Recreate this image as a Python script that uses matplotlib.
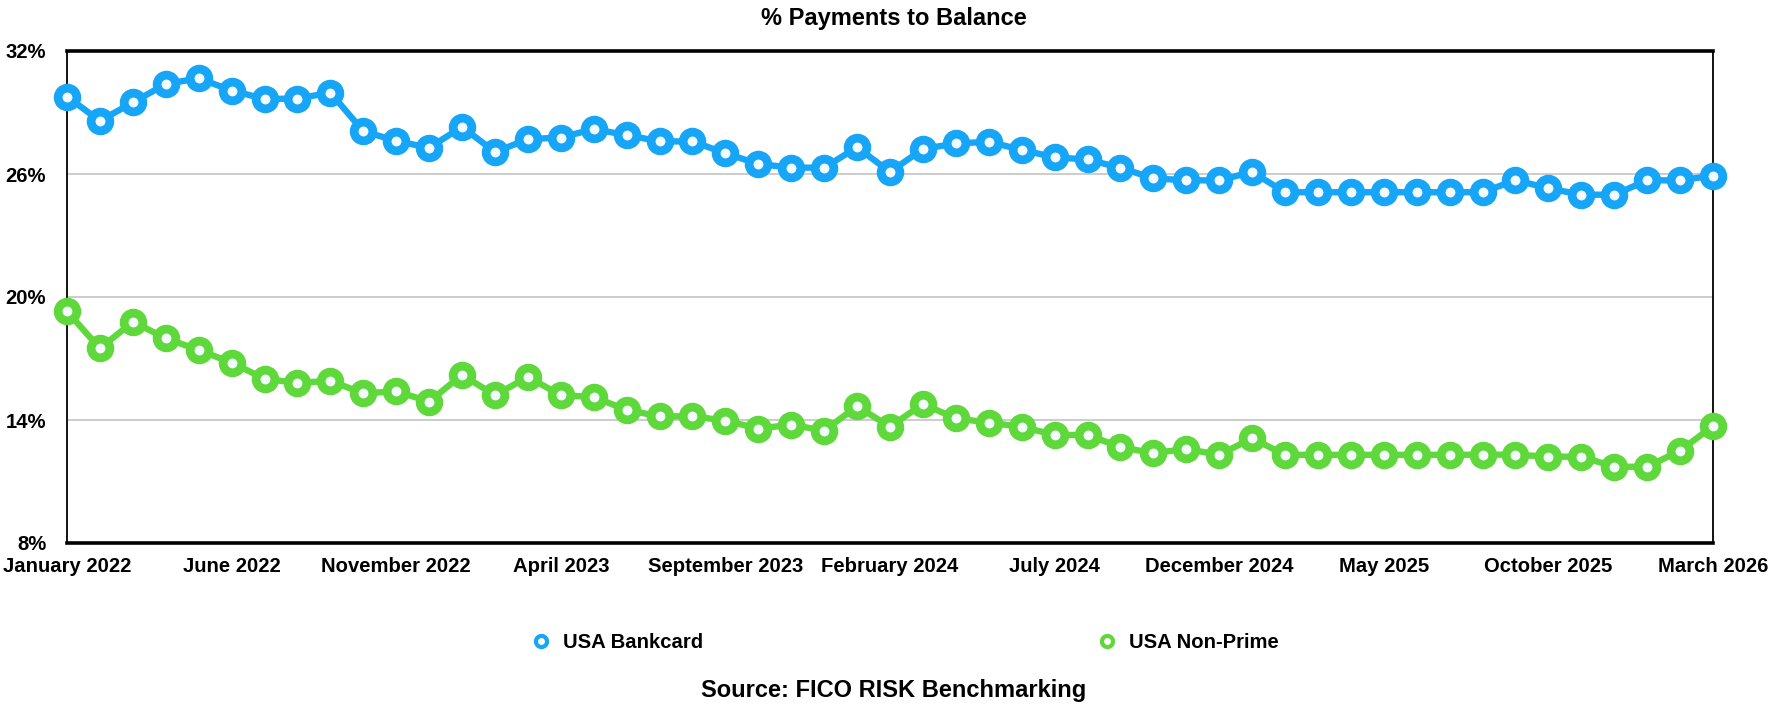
import numpy as np
import matplotlib
matplotlib.use("Agg")
import matplotlib.pyplot as plt
from matplotlib.lines import Line2D

# ---- data ----
months = [
    "January 2022", "February 2022", "March 2022", "April 2022", "May 2022", "June 2022",
    "July 2022", "August 2022", "September 2022", "October 2022", "November 2022", "December 2022",
    "January 2023", "February 2023", "March 2023", "April 2023", "May 2023", "June 2023",
    "July 2023", "August 2023", "September 2023", "October 2023", "November 2023", "December 2023",
    "January 2024", "February 2024", "March 2024", "April 2024", "May 2024", "June 2024",
    "July 2024", "August 2024", "September 2024", "October 2024", "November 2024", "December 2024",
    "January 2025", "February 2025", "March 2025", "April 2025", "May 2025", "June 2025",
    "July 2025", "August 2025", "September 2025", "October 2025", "November 2025", "December 2025",
    "January 2026", "February 2026", "March 2026",
]

bankcard = [
    29.78, 28.59, 29.49, 30.39, 30.67, 30.07, 29.66, 29.68, 29.97, 28.09,
    27.61, 27.28, 28.30, 27.07, 27.70, 27.78, 28.19, 27.90, 27.59, 27.59,
    27.01, 26.49, 26.31, 26.31, 27.30, 26.10, 27.22, 27.49, 27.57, 27.18,
    26.81, 26.71, 26.30, 25.79, 25.69, 25.69, 26.10, 25.11, 25.11, 25.11,
    25.11, 25.11, 25.11, 25.11, 25.70, 25.30, 24.99, 24.99, 25.69, 25.69, 25.92,
]

non_prime = [
    19.30, 17.49, 18.79, 17.99, 17.41, 16.80, 16.01, 15.81, 15.91, 15.30,
    15.40, 14.90, 16.20, 15.21, 16.10, 15.21, 15.12, 14.49, 14.18, 14.18,
    13.97, 13.58, 13.77, 13.48, 14.67, 13.67, 14.78, 14.08, 13.87, 13.67,
    13.27, 13.27, 12.68, 12.38, 12.59, 12.30, 13.11, 12.30, 12.30, 12.30,
    12.30, 12.30, 12.30, 12.31, 12.31, 12.21, 12.21, 11.72, 11.72, 12.50, 13.71,
]

y_ticks = [8, 14, 20, 26, 32]
label_every = 5

BLUE = "#17a6f7"
GREEN = "#5fd83b"

plt.rcParams["font.family"] = ["Liberation Sans", "DejaVu Sans"]
plt.rcParams["font.weight"] = "bold"

fig = plt.figure(figsize=(17.7, 7.14), dpi=100)
ax = fig.add_axes([67 / 1770, 1 - 543 / 714, (1713 - 67) / 1770, (543 - 51) / 714])

x = np.arange(len(months))
style = dict(linewidth=4.6, marker="o", markersize=13.5, markeredgewidth=6.3,
             markerfacecolor="#f4fbff", solid_joinstyle="round", zorder=3, clip_on=False)
ax.plot(x, bankcard, color=BLUE, markeredgecolor=BLUE, **style)
ax.plot(x, non_prime, color=GREEN, markeredgecolor=GREEN, **style)

ax.set_xlim(0, len(months) - 1)
ax.set_ylim(8, 32)
ax.set_yticks(y_ticks)
ax.set_yticklabels([f"{v}%" for v in y_ticks])
ax.set_xticks(x[::label_every])
ax.set_xticklabels(months[::label_every])
ax.tick_params(axis="both", length=0, labelsize=14.6)
ax.tick_params(axis="y", pad=15)
ax.tick_params(axis="x", pad=10)

ax.grid(axis="y", color="#c8c8c8", linewidth=1.3)
ax.set_axisbelow(True)
for side in ["top", "bottom"]:
    ax.spines[side].set_linewidth(2.6)
for side in ["left", "right"]:
    ax.spines[side].set_linewidth(1.3)

fig.text(0.505, 1 - 18 / 714, "% Payments to Balance", ha="center", va="center",
         fontsize=17, fontweight="bold")
fig.text(0.505, 1 - 691 / 714, "Source: FICO RISK Benchmarking", ha="center", va="center",
         fontsize=17, fontweight="bold")

handles = [
    Line2D([], [], linestyle="none", marker="o", markersize=8, markeredgewidth=3,
           markeredgecolor=BLUE, markerfacecolor="white"),
    Line2D([], [], linestyle="none", marker="o", markersize=8, markeredgewidth=3,
           markeredgecolor=GREEN, markerfacecolor="white"),
]
fig.legend(handles, ["USA Bankcard", "USA Non-Prime"], loc="center left",
           bbox_to_anchor=(533 / 1770, 1 - 643 / 714), ncol=2, frameon=False,
           borderaxespad=0, borderpad=0,
           fontsize=14.6, handlelength=0.8, handletextpad=0.7, columnspacing=19.5)

fig.savefig("out.png", dpi=100)
